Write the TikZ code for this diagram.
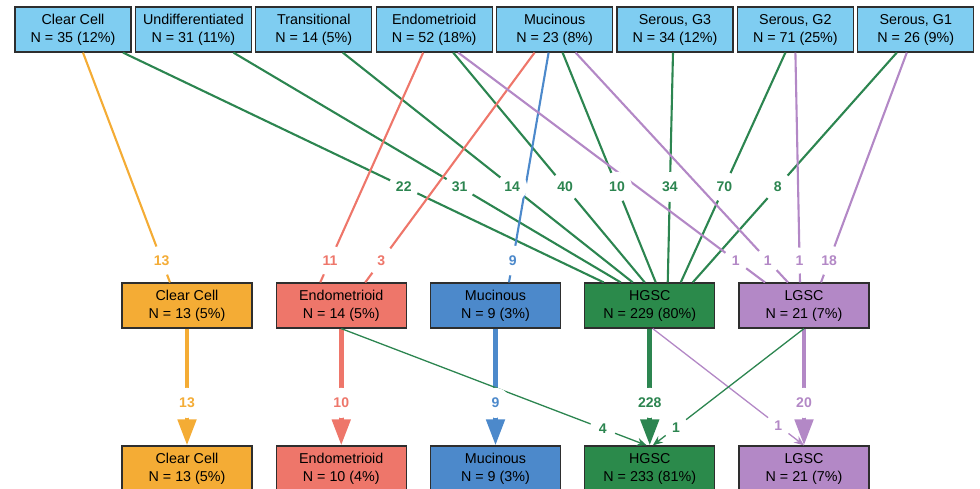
\documentclass[tikz,border=0pt]{standalone}
\usepackage{fontspec}
\setmainfont{Liberation Sans}
\usetikzlibrary{arrows.meta}
\definecolor{topblue}{HTML}{7FCDF1}
\definecolor{boxline}{HTML}{2E2E2E}
\definecolor{cOrange}{HTML}{F4AC35}
\definecolor{cRed}{HTML}{EE766A}
\definecolor{cBlue}{HTML}{4C89CB}
\definecolor{cGreen}{HTML}{2C8550}
\definecolor{cGreenFill}{HTML}{2B8A4B}
\definecolor{cPurple}{HTML}{B388C6}
\begin{document}
\begin{tikzpicture}[x=1pt,y=-1pt,
  boxbase/.style={draw=boxline, line width=1.2pt, minimum height=45pt, inner sep=0pt,
    align=center, text=black, font=\fontsize{14.3}{18}\selectfont},
  topbox/.style={boxbase, fill=topblue, minimum width=116pt},
  midbox/.style={boxbase, minimum width=130pt},
  flow/.style={line width=2.1pt},
  thick flow/.style={line width=4.8pt, -{Triangle[width=18pt,length=26pt]}},
  thin flow/.style={line width=1.3pt, -{Stealth[width=8pt,length=10pt]}},
  lbl/.style={circle, fill=white, inner sep=0pt, minimum size=30pt,
    font=\fontsize{14}{16}\selectfont\bfseries},
  slbl/.style={lbl, minimum size=26pt}
]
\path[use as bounding box, clip] (0,0) rectangle (980,488);

% top row
\node[topbox] (t1) at (73,29.5) {Clear Cell\\N = 35 (12\%)};
\node[topbox] (t2) at (193.4,29.5) {Undifferentiated\\N = 31 (11\%)};
\node[topbox] (t3) at (313.8,29.5) {Transitional\\N = 14 (5\%)};
\node[topbox] (t4) at (434.2,29.5) {Endometrioid\\N = 52 (18\%)};
\node[topbox] (t5) at (554.6,29.5) {Mucinous\\N = 23 (8\%)};
\node[topbox] (t6) at (675,29.5) {Serous, G3\\N = 34 (12\%)};
\node[topbox] (t7) at (795.4,29.5) {Serous, G2\\N = 71 (25\%)};
\node[topbox] (t8) at (915.8,29.5) {Serous, G1\\N = 26 (9\%)};

% middle row
\node[midbox, fill=cOrange] (m1) at (187,305.5) {Clear Cell\\N = 13 (5\%)};
\node[midbox, fill=cRed] (m2) at (341.25,305.5) {Endometrioid\\N = 14 (5\%)};
\node[midbox, fill=cBlue] (m3) at (495.5,305.5) {Mucinous\\N = 9 (3\%)};
\node[midbox, fill=cGreenFill] (m4) at (649.75,305.5) {HGSC\\N = 229 (80\%)};
\node[midbox, fill=cPurple] (m5) at (804,305.5) {LGSC\\N = 21 (7\%)};

% bottom row
\node[midbox, fill=cOrange] (b1) at (187,468.5) {Clear Cell\\N = 13 (5\%)};
\node[midbox, fill=cRed] (b2) at (341.25,468.5) {Endometrioid\\N = 10 (4\%)};
\node[midbox, fill=cBlue] (b3) at (495.5,468.5) {Mucinous\\N = 9 (3\%)};
\node[midbox, fill=cGreenFill] (b4) at (649.75,468.5) {HGSC\\N = 233 (81\%)};
\node[midbox, fill=cPurple] (b5) at (804,468.5) {LGSC\\N = 21 (7\%)};

% top -> middle: green flows to HGSC
\draw[flow, cGreen] ([xshift=50pt]t1.south) -- coordinate[pos=.584] (g22) ([xshift=-46pt]m4.north);
\draw[flow, cGreen] ([xshift=40pt]t2.south) -- coordinate[pos=.584] (g31) ([xshift=-29pt]m4.north);
\draw[flow, cGreen] ([xshift=29pt]t3.south) -- coordinate[pos=.584] (g14) ([xshift=-17pt]m4.north);
\draw[flow, cGreen] ([xshift=19pt]t4.south) -- coordinate[pos=.584] (g40) ([xshift=-5pt]m4.north);
\draw[flow, cGreen] ([xshift=8pt]t5.south) -- coordinate[pos=.584] (g10) ([xshift=6pt]m4.north);
\draw[flow, cGreen] ([xshift=-2pt]t6.south) -- coordinate[pos=.584] (g34) ([xshift=18pt]m4.north);
\draw[flow, cGreen] ([xshift=-10pt]t7.south) -- coordinate[pos=.584] (g70) ([xshift=31pt]m4.north);
\draw[flow, cGreen] ([xshift=-19pt]t8.south) -- coordinate[pos=.584] (g8) ([xshift=43pt]m4.north);

% top -> middle: other flows
\draw[flow, cOrange] ([xshift=10pt]t1.south) -- coordinate[pos=.905] (o13) ([xshift=-17pt]m1.north);
\draw[flow, cRed] ([xshift=-11pt]t4.south) -- coordinate[pos=.905] (r11) ([xshift=-21pt]m2.north);
\draw[flow, cRed] ([xshift=-20pt]t5.south) -- coordinate[pos=.905] (r3) ([xshift=24pt]m2.north);
\draw[flow, cBlue] ([xshift=-6pt]t5.south) -- coordinate[pos=.905] (bl9) ([xshift=13.5pt]m3.north);
\draw[flow, cPurple] ([xshift=24pt]t4.south) -- coordinate[pos=.905] (pa) ([xshift=-39pt]m5.north);
\draw[flow, cPurple] ([xshift=21pt]t5.south) -- coordinate[pos=.905] (pb) ([xshift=-16pt]m5.north);
\draw[flow, cPurple] (t7.south) -- coordinate[pos=.905] (pc) ([xshift=-4pt]m5.north);
\draw[flow, cPurple] ([xshift=-9pt]t8.south) -- coordinate[pos=.905] (p18) ([xshift=17pt]m5.north);

% middle -> bottom
\draw[thick flow, cOrange] (m1.south) -- coordinate[pos=.636] (q13) (b1.north);
\draw[thick flow, cRed] (m2.south) -- coordinate[pos=.636] (q10) (b2.north);
\draw[thick flow, cBlue] (m3.south) -- coordinate[pos=.636] (q9) (b3.north);
\draw[thick flow, cGreen] (m4.south) -- coordinate[pos=.636] (q228) (b4.north);
\draw[thick flow, cPurple] (m5.south) -- coordinate[pos=.636] (q20) (b5.north);
\draw[thin flow, cGreen] (m2.south) -- coordinate[pos=.856] (q4) ([xshift=-3pt]b4.north);
\draw[thin flow, cPurple] ([xshift=3pt]m4.south) -- coordinate[pos=.83] (qp1) (b5.north);
\draw[thin flow, cGreen] (m5.south) -- coordinate[pos=.847] (qg1) ([xshift=3pt]b4.north);

% labels
\node[lbl, text=cGreen] at (g22) {22};
\node[lbl, text=cGreen] at (g31) {31};
\node[lbl, text=cGreen] at (g14) {14};
\node[lbl, text=cGreen] at (g40) {40};
\node[lbl, text=cGreen] at (g10) {10};
\node[lbl, text=cGreen] at (g34) {34};
\node[lbl, text=cGreen] at (g70) {70};
\node[lbl, text=cGreen] at (g8) {8};
\node[lbl, text=cOrange] at (o13) {13};
\node[lbl, text=cRed] at (r11) {11};
\node[lbl, text=cRed] at (r3) {3};
\node[lbl, text=cBlue] at (bl9) {9};
\node[slbl, text=cPurple] at (pa) {1};
\node[slbl, text=cPurple] at (pb) {1};
\node[slbl, text=cPurple] at (pc) {1};
\node[lbl, text=cPurple] at (p18) {18};
\node[lbl, text=cOrange] at (q13) {13};
\node[lbl, text=cRed] at (q10) {10};
\node[lbl, text=cBlue] at (q9) {9};
\node[lbl, text=cGreen] at (q228) {228};
\node[lbl, text=cPurple] at (q20) {20};
\node[slbl, text=cGreen] at (q4) {4};
\node[slbl, text=cPurple] at (qp1) {1};
\node[slbl, text=cGreen] at (qg1) {1};
\end{tikzpicture}
\end{document}
